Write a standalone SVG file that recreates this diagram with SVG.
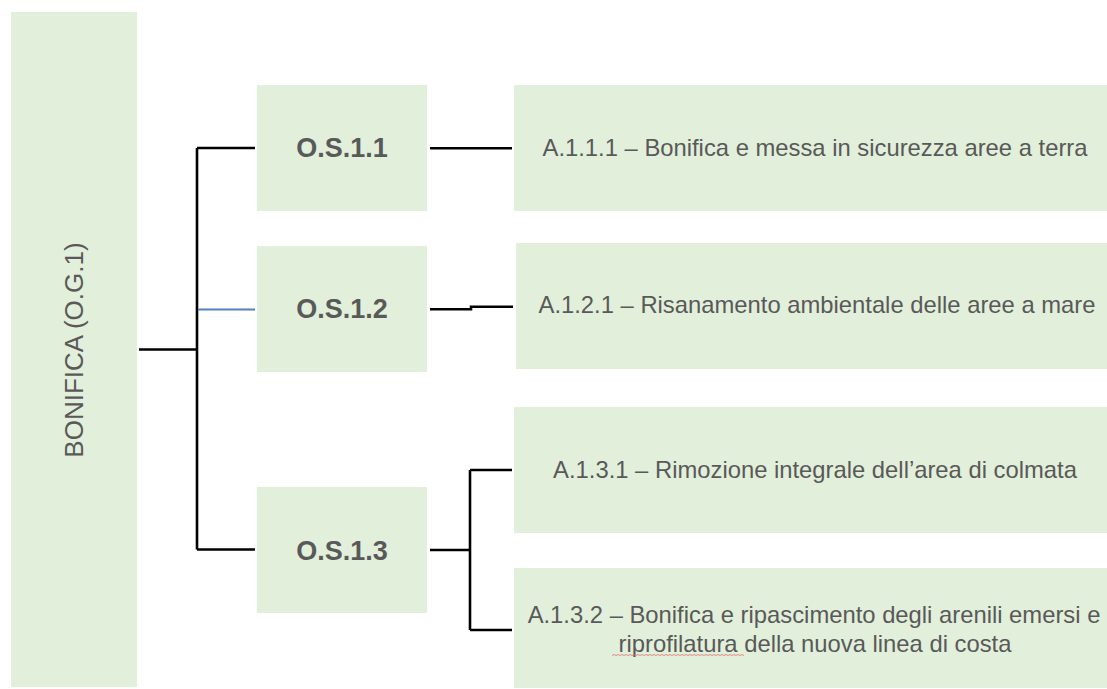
<svg xmlns="http://www.w3.org/2000/svg" width="1107" height="689" viewBox="0 0 1107 689">
<style>
.box{fill:#E2EFDA;}
.t{font-family:"Liberation Sans",Arial,sans-serif;fill:#595959;}
.os{font-size:27px;font-weight:bold;text-anchor:middle;}
.a{font-size:23.8px;text-anchor:middle;}
.c{fill:none;stroke:#000;stroke-width:2.6;}
</style>
<rect width="1107" height="689" fill="#fff"/>
<g id="og1">
<rect class="box" x="11" y="12" width="126" height="675"/>
<text class="t" font-size="26" text-anchor="middle" transform="translate(83 350) rotate(-90)">BONIFICA (O.G.1)</text>
</g>
<g id="os11">
<rect class="box" x="257" y="85" width="170" height="126"/>
<text class="t os" x="342" y="157">O.S.1.1</text>
</g>
<g id="os12">
<rect class="box" x="257" y="246" width="170" height="126"/>
<text class="t os" x="342" y="318">O.S.1.2</text>
</g>
<g id="os13">
<rect class="box" x="257" y="487" width="170" height="126"/>
<text class="t os" x="342" y="560">O.S.1.3</text>
</g>
<g id="a111">
<rect class="box" x="514" y="85" width="593" height="126"/>
<text class="t a" x="815" y="156">A.1.1.1 – Bonifica e messa in sicurezza aree a terra</text>
</g>
<g id="a121">
<rect class="box" x="516" y="243" width="591" height="126"/>
<text class="t a" x="817" y="313">A.1.2.1 – Risanamento ambientale delle aree a mare</text>
</g>
<g id="a131">
<rect class="box" x="514" y="407" width="593" height="126"/>
<text class="t a" x="815" y="478">A.1.3.1 – Rimozione integrale dell’area di colmata</text>
</g>
<g id="a132">
<rect class="box" x="514" y="568" width="593" height="120"/>
<text class="t a" x="814" y="623">A.1.3.2 – Bonifica e ripascimento degli arenili emersi e</text>
<text class="t a" x="815" y="652">riprofilatura della nuova linea di costa</text>
<path d="M612 655.5 l2 -1 l2 1 l2 -1 l2 1 l2 -1 l2 1 l2 -1 l2 1 l2 -1 l2 1 l2 -1 l2 1 l2 -1 l2 1 l2 -1 l2 1 l2 -1 l2 1 l2 -1 l2 1 l2 -1 l2 1 l2 -1 l2 1 l2 -1 l2 1 l2 -1 l2 1 l2 -1 l2 1 l2 -1 l2 1 l2 -1 l2 1 l2 -1 l2 1 l2 -1 l2 1 l2 -1 l2 1 l2 -1 l2 1 l2 -1 l2 1 l2 -1 l2 1 l2 -1 l2 1 l2 -1 l2 1 l2 -1 l2 1 l2 -1 l2 1 l2 -1 l2 1 l2 -1 l2 1 l2 -1 l2 1 l2 -1 l2 1 l2 -1 l2 1 l2 -1 l2 1" fill="none" stroke="#E07070" stroke-width="0.8"/>
</g>
<g id="connectors">
<path class="c" d="M139 349.5 H197 M197 148 V549.5 M197 148 H255 M197 549.5 H255"/>
<path d="M198 309.5 H255" fill="none" stroke="#4F81BD" stroke-width="2"/>
<path class="c" d="M430 148.3 H512"/>
<path class="c" d="M430 309.3 H471 V306.7 H513"/>
<path class="c" d="M430 550 H470 M470 470 V630 M470 470 H512 M470 630 H512"/>
</g>
</svg>
